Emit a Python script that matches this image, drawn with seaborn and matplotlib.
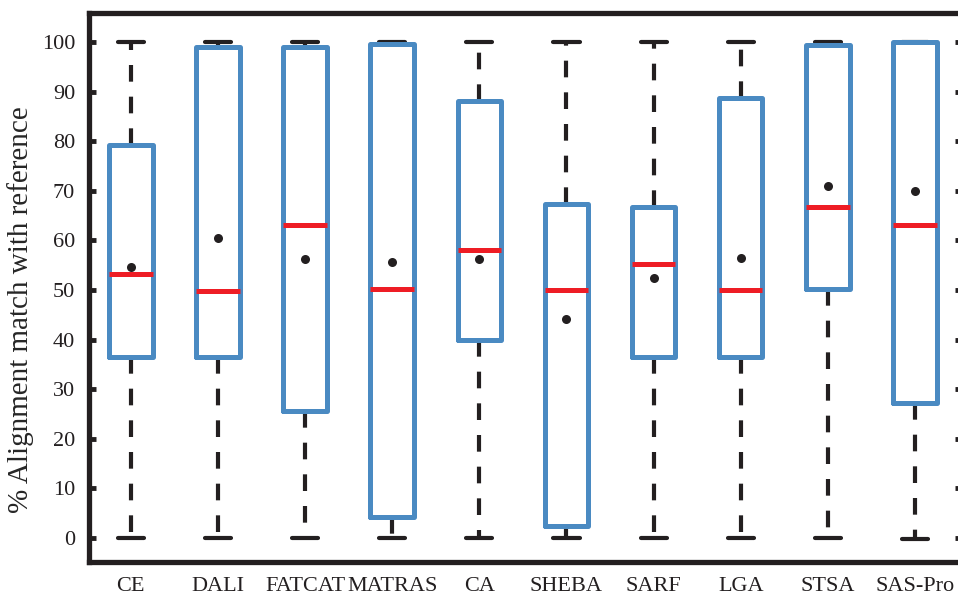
import numpy as np
import pandas as pd
import matplotlib
matplotlib.use("Agg")
import matplotlib.pyplot as plt
import matplotlib.colors as mcolors
import seaborn as sns

methods = ["CE", "DALI", "FATCAT", "MATRAS", "CA", "SHEBA", "SARF", "LGA", "STSA", "SAS-Pro"]
lows    = [0, 0, 0, 0, 0, 0, 0, 0, 0, -0.3]
q1s     = [36.5, 36.5, 25.7, 4.3, 39.9, 2.5, 36.5, 36.5, 50.3, 27.2]
medians = [53.2, 49.7, 63.2, 50.2, 58.1, 50.0, 55.2, 50.0, 66.8, 63.2]
q3s     = [79.2, 99.0, 98.9, 99.7, 88.1, 67.3, 66.7, 88.7, 99.4, 100.0]
highs   = [100, 100, 100, 100, 100, 100, 100, 100, 100, 100]
means   = [54.7, 60.4, 56.2, 55.6, 56.2, 44.2, 52.4, 56.4, 71.0, 70.0]
yticks  = [0, 10, 20, 30, 40, 50, 60, 70, 80, 90, 100]

rows = []
for m, a, b, c, d, e in zip(methods, lows, q1s, medians, q3s, highs):
    for v in (a, b, c, d, e):
        rows.append({"method": m, "value": v})
df = pd.DataFrame(rows)

sns.set_style("white")
plt.rcParams["font.family"] = ["Liberation Serif", "DejaVu Serif"]

BLUE = "#4A8AC2"
RED = "#EE1D25"
BLACK = "#231F20"

fig = plt.figure(figsize=(9.58, 5.97), dpi=100)
ax = fig.add_axes([89 / 958, 35 / 597, 873 / 958, 549 / 597])

sns.boxplot(
    data=df, x="method", y="value", order=methods, ax=ax,
    whis=(0, 100), width=0.5, fill=False, color=BLUE, linewidth=3.6,
    showfliers=False,
    medianprops=dict(color=RED, linewidth=3.6, solid_capstyle="butt"),
    whiskerprops=dict(color=BLACK, linewidth=3.0, linestyle=(0, (4, 3.6))),
    capprops=dict(color=BLACK, linewidth=3.0, linestyle="-"),
    capwidths=0.3,
)

# boxes above caps, medians above boxes
for ln in ax.lines:
    hexc = mcolors.to_hex(ln.get_color()).lower()
    if hexc == BLUE.lower():
        ln.set_zorder(3)
    elif hexc == RED.lower():
        ln.set_zorder(4)

sns.stripplot(x=methods, y=means, order=methods, ax=ax, jitter=False,
              color=BLACK, size=6.5, zorder=5)

ax.set_xlim(-0.48, 9.54)
ax.set_ylim(-4.84, 105.85)
ax.set_yticks(yticks)
ax.set_yticklabels([str(t) for t in yticks])
ax.set_xlabel("")
ax.set_ylabel("% Alignment match with reference", fontsize=21,
              ha="center", va="center")
ax.yaxis.set_label_coords((21 - 89) / 873, (562 - 310) / 549)

for side in ["left", "top", "bottom"]:
    ax.spines[side].set_visible(True)
    ax.spines[side].set_linewidth(3.8)
    ax.spines[side].set_color(BLACK)
ax.spines["right"].set_visible(False)

ax.tick_params(axis="y", which="both", direction="in", length=5, width=3.5,
               color=BLACK, left=True, right=True, labelsize=16, pad=10,
               labelcolor=BLACK)
ax.tick_params(axis="x", length=0, labelsize=16, pad=11, labelcolor=BLACK)

fig.savefig("out.png", dpi=100)
